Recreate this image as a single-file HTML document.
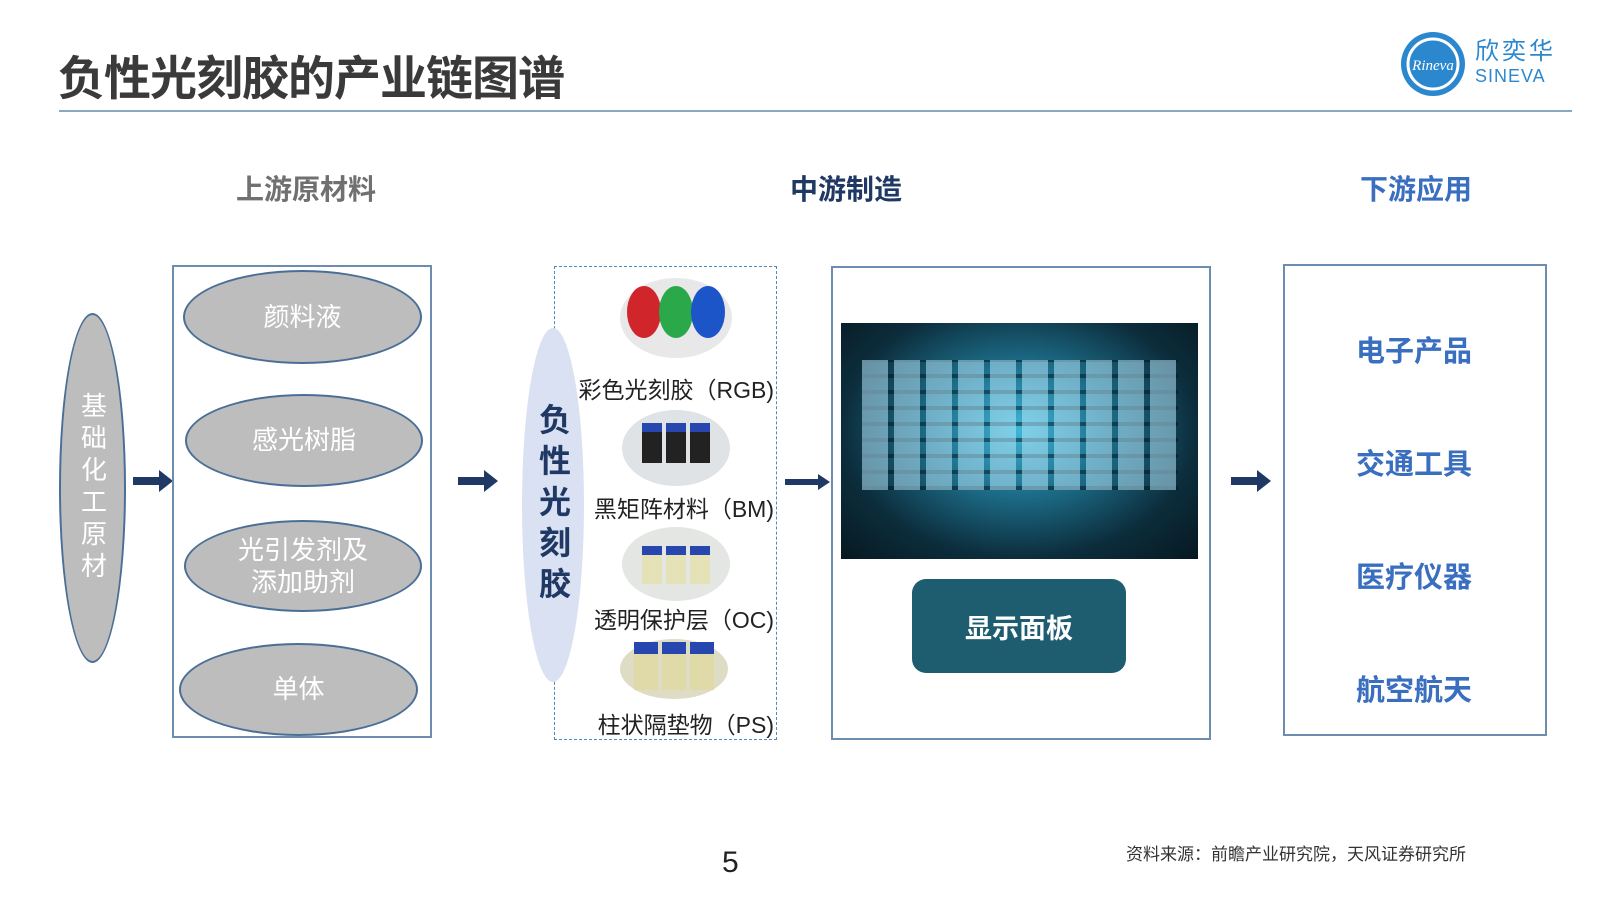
<!DOCTYPE html>
<html><head><meta charset="utf-8"><style>
body{margin:0;width:1600px;height:900px;background:#fff;position:relative;overflow:hidden;font-family:"Liberation Sans","Noto Sans CJK SC",sans-serif}
.a{position:absolute}
.c{display:flex;align-items:center;justify-content:center;text-align:center}
.el{position:absolute;border-radius:50%;background:#bdbdbd;border:2px solid #4a6f96;box-sizing:border-box;color:#fff;font-size:26px;line-height:1.25}
.box{position:absolute;border:2px solid #6d8db0;box-sizing:border-box}
.arr{position:absolute;width:40px;height:22px}
.lbl{position:absolute;right:826px;font-size:23px;color:#222;white-space:nowrap}
.dn{position:absolute;width:260px;text-align:center;font-size:29px;font-weight:bold;color:#3a6fc0}
</style></head><body>
<div class="a" style="left:58px;top:40px;font-size:47px;font-weight:bold;color:#3a3a3a;letter-spacing:-1px">负性光刻胶的产业链图谱</div>
<div class="a" style="left:59px;top:110px;width:1513px;height:2px;background:#8aa8c0"></div>
<svg class="a" style="left:1398px;top:30px" width="70" height="70"><circle cx="35" cy="34" r="32" fill="#2b88cf"/><circle cx="35" cy="34" r="25" fill="none" stroke="#fff" stroke-width="3"/><text x="35" y="40" font-size="15" font-style="italic" fill="#fff" text-anchor="middle" font-family="Liberation Serif">Rineva</text></svg>
<div class="a" style="left:1475px;top:38px;font-size:24px;line-height:28px;color:#2b88cf;letter-spacing:3px">欣奕华</div>
<div class="a" style="left:1475px;top:66px;font-size:18px;line-height:20px;color:#2b88cf;letter-spacing:1px">SINEVA</div>

<div class="a" style="left:206px;top:168px;width:200px;text-align:center;font-size:28px;font-weight:bold;color:#707070">上游原材料</div>
<div class="a" style="left:746px;top:168px;width:200px;text-align:center;font-size:28px;font-weight:bold;color:#1f3864">中游制造</div>
<div class="a" style="left:1316px;top:168px;width:200px;text-align:center;font-size:28px;font-weight:bold;color:#3a6fc0">下游应用</div>

<div class="el c" style="left:59px;top:313px;width:67px;height:350px;font-size:26px;line-height:32px;letter-spacing:6px;writing-mode:vertical-rl">基础化工原材</div>

<svg class="arr" style="left:133px;top:470px" viewBox="0 0 40 22"><path d="M0 7h26V0l14 11-14 11v-7H0z" fill="#1f3864"/></svg>
<svg class="arr" style="left:458px;top:470px" viewBox="0 0 40 22"><path d="M0 7h26V0l14 11-14 11v-7H0z" fill="#1f3864"/></svg>
<svg class="a" style="left:785px;top:474px" width="45" height="16" viewBox="0 0 45 16"><path d="M0 5h33V0l12 8-12 8v-5H0z" fill="#1f3864"/></svg>
<svg class="arr" style="left:1231px;top:470px" viewBox="0 0 40 22"><path d="M0 7h26V0l14 11-14 11v-7H0z" fill="#1f3864"/></svg>

<div class="box" style="left:172px;top:265px;width:260px;height:473px"></div>
<div class="el c" style="left:183px;top:270px;width:239px;height:94px">颜料液</div>
<div class="el c" style="left:185px;top:394px;width:238px;height:93px">感光树脂</div>
<div class="el c" style="left:184px;top:520px;width:238px;height:92px">光引发剂及<br>添加助剂</div>
<div class="el c" style="left:179px;top:643px;width:239px;height:93px">单体</div>

<div class="a" style="left:554px;top:266px;width:223px;height:474px;border:1.5px dashed #4a8cc0;box-sizing:border-box"></div>
<div class="a c" style="left:522px;top:328px;width:62px;height:354px;border-radius:50%;background:#d9e1f2;color:#1f3864;font-size:32px;font-weight:bold;line-height:40px;letter-spacing:9px;writing-mode:vertical-rl">负性光刻胶</div>

<svg class="a" style="left:616px;top:276px" width="120" height="84"><ellipse cx="60" cy="42" rx="56" ry="40" fill="#e8e8e8"/><ellipse cx="28" cy="36" rx="17" ry="26" fill="#d0262b"/><ellipse cx="60" cy="36" rx="17" ry="26" fill="#2aa84a"/><ellipse cx="92" cy="36" rx="17" ry="26" fill="#1c55c8"/></svg>
<svg class="a" style="left:620px;top:409px" width="112" height="78"><ellipse cx="56" cy="39" rx="54" ry="38" fill="#dfe3e6"/><rect x="22" y="22" width="20" height="32" fill="#222"/><rect x="46" y="22" width="20" height="32" fill="#222"/><rect x="70" y="22" width="20" height="32" fill="#222"/><rect x="22" y="14" width="20" height="9" fill="#2846b0"/><rect x="46" y="14" width="20" height="9" fill="#2846b0"/><rect x="70" y="14" width="20" height="9" fill="#2846b0"/></svg>
<svg class="a" style="left:620px;top:526px" width="112" height="76"><ellipse cx="56" cy="38" rx="54" ry="37" fill="#e4e6e4"/><rect x="22" y="28" width="20" height="30" fill="#e6e2b8"/><rect x="46" y="28" width="20" height="30" fill="#e6e2b8"/><rect x="70" y="28" width="20" height="30" fill="#e6e2b8"/><rect x="22" y="20" width="20" height="9" fill="#2846b0"/><rect x="46" y="20" width="20" height="9" fill="#2846b0"/><rect x="70" y="20" width="20" height="9" fill="#2846b0"/></svg>
<svg class="a" style="left:618px;top:638px" width="112" height="62"><ellipse cx="56" cy="31" rx="54" ry="30" fill="#dfdcc6"/><rect x="16" y="14" width="24" height="38" fill="#e0d9a8"/><rect x="44" y="14" width="24" height="38" fill="#e0d9a8"/><rect x="72" y="14" width="24" height="38" fill="#e0d9a8"/><rect x="16" y="4" width="24" height="12" fill="#2846b0"/><rect x="44" y="4" width="24" height="12" fill="#2846b0"/><rect x="72" y="4" width="24" height="12" fill="#2846b0"/></svg>

<div class="lbl" style="top:371px">彩色光刻胶（RGB)</div>
<div class="lbl" style="top:490px">黑矩阵材料（BM)</div>
<div class="lbl" style="top:601px">透明保护层（OC)</div>
<div class="lbl" style="top:706px">柱状隔垫物（PS)</div>

<div class="box" style="left:831px;top:266px;width:380px;height:474px"></div>
<div class="a" style="left:841px;top:323px;width:357px;height:236px;background:radial-gradient(ellipse at 50% 45%,#3fb6d6 0%,#1d6e8a 35%,#0c2d3c 70%,#061820 100%)"></div>
<div class="a" style="left:862px;top:360px;width:316px;height:130px;background:repeating-linear-gradient(90deg,rgba(180,230,250,.55) 0 26px,transparent 26px 32px),repeating-linear-gradient(0deg,rgba(0,20,30,.5) 0 4px,transparent 4px 16px)"></div>
<div class="a c" style="left:912px;top:579px;width:214px;height:94px;background:#1e5d70;border-radius:14px;color:#fff;font-size:27px;font-weight:bold">显示面板</div>

<div class="box" style="left:1283px;top:264px;width:264px;height:472px"></div>
<div class="dn" style="left:1284px;top:328px">电子产品</div>
<div class="dn" style="left:1284px;top:441px">交通工具</div>
<div class="dn" style="left:1284px;top:554px">医疗仪器</div>
<div class="dn" style="left:1284px;top:667px">航空航天</div>

<div class="a" style="left:722px;top:846px;font-size:30px;color:#222">5</div>
<div class="a" style="left:1126px;top:840px;font-size:17px;color:#333">资料来源：前瞻产业研究院，天风证券研究所</div>
</body></html>
